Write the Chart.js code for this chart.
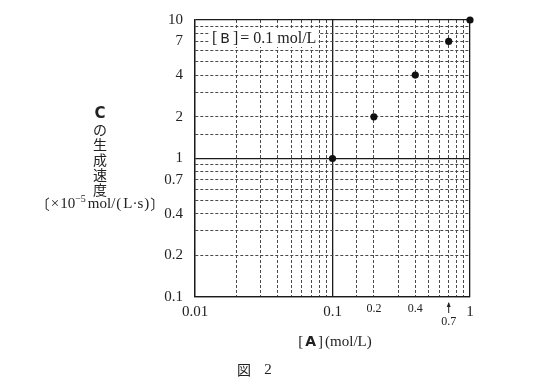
<!DOCTYPE html>
<html>
<head>
<meta charset="utf-8">
<script src="https://cdn.jsdelivr.net/npm/chart.js@4"></script>
<style>
  html, body { margin: 0; padding: 0; background: #fff; }
  #wrap { width: 540px; height: 386px; }
</style>
</head>
<body>
<div id="wrap"><canvas id="chart" width="540" height="386"></canvas></div>
<script>
// data
const concA = [0.1, 0.2, 0.4, 0.7, 1];
const rateC = [1, 2, 4, 7, 10];
const xTickLabels = ['0.01', '0.1', '0.2', '0.4', '1'];
const xArrowLabel = '0.7';
const yTickLabels = ['10', '7', '4', '2', '1', '0.7', '0.4', '0.2', '0.1'];

const SERIF = '"Liberation Serif", "DejaVu Serif", serif';
const GOTHIC = '"DejaVu Sans", "Noto Sans CJK JP", sans-serif';
const CJK = '"Noto Sans CJK JP", sans-serif';

const isMajor = v => Math.abs(Math.log10(v) - Math.round(Math.log10(v))) < 1e-6;

// grid: solid at decades, fine dashes between
const gridColor = ctx => (ctx.tick && isMajor(ctx.tick.value)) ? '#1a1a1a' : '#4a4a4a';
const gridWidth = ctx => (ctx.tick && isMajor(ctx.tick.value)) ? 1.3 : 1;
const gridDash = ctx => (ctx.tick && isMajor(ctx.tick.value)) ? [] : [3, 2];

// draws a row of text pieces that use different fonts
// run = [text, font, dy, gapAfter, shiftBefore]
function drawRuns(ctx, x, y, runs, align) {
  let total = 0;
  runs.forEach(r => { ctx.font = r[1]; total += ctx.measureText(r[0]).width + (r[3] || 0) + (r[4] || 0); });
  let cx = align === 'center' ? x - total / 2 : (align === 'right' ? x - total : x);
  runs.forEach(r => {
    ctx.font = r[1];
    ctx.textAlign = 'left';
    cx += r[4] || 0;
    ctx.fillText(r[0], cx, y + (r[2] || 0));
    cx += ctx.measureText(r[0]).width + (r[3] || 0);
  });
}

const labelsPlugin = {
  id: 'labels',
  afterDraw(chart) {
    const { ctx, scales: { x, y } } = chart;
    ctx.save();
    ctx.fillStyle = '#222';
    ctx.strokeStyle = '#222';
    ctx.textBaseline = 'middle';

    // y tick labels
    ctx.font = '15px ' + SERIF;
    ctx.textAlign = 'right';
    yTickLabels.forEach(t => {
      ctx.fillText(t, 183, y.getPixelForValue(parseFloat(t)));
    });

    // x tick labels
    ctx.textAlign = 'center';
    xTickLabels.forEach(t => {
      const v = parseFloat(t);
      const big = isMajor(v);
      ctx.font = (big ? '15px ' : '12px ') + SERIF;
      ctx.fillText(t, x.getPixelForValue(v), big ? 312 : 309);
    });
    // 0.7 with arrow
    const ax = x.getPixelForValue(parseFloat(xArrowLabel));
    ctx.font = '12px ' + SERIF;
    ctx.fillText(xArrowLabel, ax, 322);
    ctx.lineWidth = 1;
    ctx.beginPath();
    ctx.moveTo(ax, 313);
    ctx.lineTo(ax, 303);
    ctx.stroke();
    ctx.beginPath();
    ctx.moveTo(ax - 2, 307);
    ctx.lineTo(ax, 302);
    ctx.lineTo(ax + 2, 307);
    ctx.closePath();
    ctx.fill();

    // box with [B] = 0.1 mol/L
    ctx.fillStyle = '#fff';
    ctx.fillRect(209, 29, 109, 18);
    ctx.fillStyle = '#222';
    drawRuns(ctx, 212, 39, [
      ['[', '16px ' + SERIF, 0, 3],
      ['B', '14px ' + GOTHIC, 0, 3],
      [']', '16px ' + SERIF, 0, 2],
      ['= 0.1 mol/L', '16px ' + SERIF]
    ], 'left');

    // y axis title, vertical
    const col = ['C', 'の', '生', '成', '速', '度'];
    ctx.textAlign = 'center';
    col.forEach((c, i) => {
      ctx.font = i === 0 ? '600 15px ' + GOTHIC : '14px ' + CJK;
      ctx.fillText(c, 100, 114 + i * 15.2);
    });
    drawRuns(ctx, 100, 204, [
      ['〔', '14px ' + CJK, 0, 1, -7],
      ['×', '15px ' + SERIF, 0, 1],
      ['10', '15px ' + SERIF],
      ['−5', '10px ' + SERIF, -5, 2],
      ['mol/', '15px ' + SERIF, 0, 1],
      ['(', '15px ' + SERIF, 0, 2],
      ['L·s', '15px ' + SERIF, 0, 1],
      [')', '15px ' + SERIF, 0, 1],
      ['〕', '14px ' + CJK, 0, -7]
    ], 'center');

    // x axis title
    drawRuns(ctx, 335, 342, [
      ['[', '15px ' + SERIF, 0, 2],
      ['A', 'bold 14px ' + GOTHIC, 0, 2],
      [']', '15px ' + SERIF, 0, 2],
      ['(', '15px ' + SERIF, 0, 0],
      ['mol/L', '15px ' + SERIF],
      [')', '15px ' + SERIF]
    ], 'center');

    // caption
    ctx.font = '14px ' + CJK;
    ctx.textAlign = 'center';
    ctx.fillText('図', 244, 370);
    ctx.font = '15px ' + SERIF;
    ctx.fillText('2', 268, 370);
    ctx.restore();
  }
};

new Chart(document.getElementById('chart'), {
  type: 'scatter',
  data: {
    datasets: [{
      data: concA.map((a, i) => ({ x: a, y: rateC[i] })),
      backgroundColor: '#111',
      borderWidth: 0,
      pointRadius: 3.6,
      clip: false
    }]
  },
  options: {
    responsive: false,
    devicePixelRatio: 1,
    animation: false,
    layout: { padding: { left: 195, right: 70, top: 20, bottom: 89 } },
    plugins: { legend: { display: false }, tooltip: { enabled: false } },
    scales: {
      x: {
        type: 'logarithmic',
        min: 0.01,
        max: 1,
        ticks: { display: false, autoSkip: false },
        grid: { drawTicks: false, color: gridColor, lineWidth: gridWidth },
        border: { display: true, color: '#1a1a1a', width: 1.3, dash: gridDash }
      },
      y: {
        type: 'logarithmic',
        min: 0.1,
        max: 10,
        ticks: { display: false, autoSkip: false },
        grid: { drawTicks: false, color: gridColor, lineWidth: gridWidth },
        border: { display: true, color: '#1a1a1a', width: 1.3, dash: gridDash }
      }
    }
  },
  plugins: [labelsPlugin]
});
</script>
</body>
</html>
